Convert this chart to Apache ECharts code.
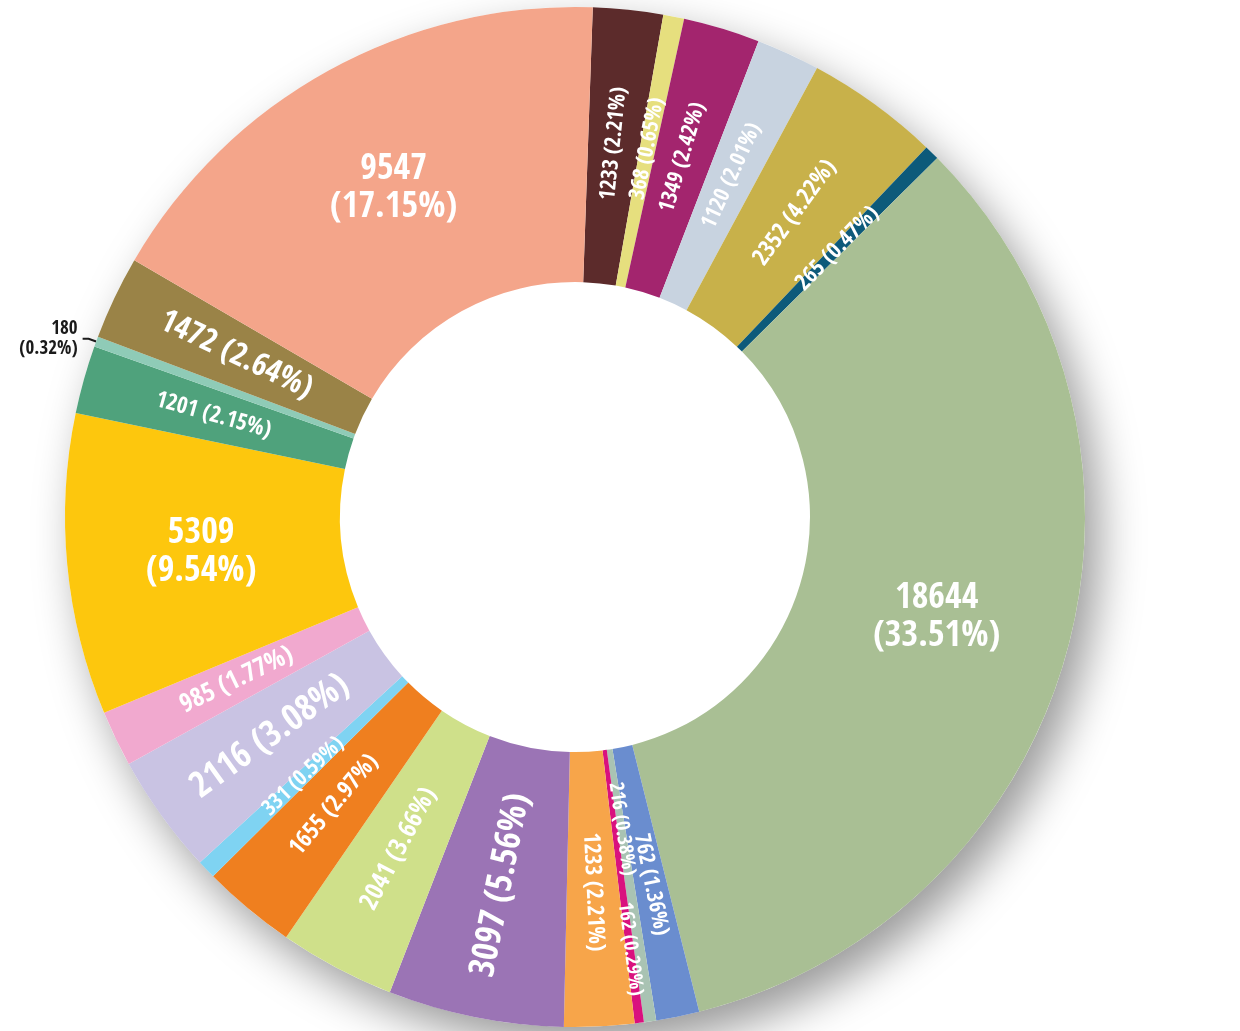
<!DOCTYPE html>
<html>
<head>
<meta charset="utf-8">
<script src="https://cdn.jsdelivr.net/npm/echarts@6/dist/echarts.min.js"></script>
<style>
  html, body { margin: 0; padding: 0; background: #fff; }
  #main { width: 1240px; height: 1031px; }
</style>
</head>
<body>
<div id="main"></div>
<script>
  // slices clockwise from 12 o'clock
  var counts = [1233, 368, 1349, 1120, 2352, 265, 18644, 762, 216, 162, 1233,
    3097, 2041, 1655, 331, 2116, 985, 5309, 1201, 180, 1472, 9547];
  // percentages as printed on the chart
  var percents = ['2.21', '0.65', '2.42', '2.01', '4.22', '0.47', '33.51', '1.36', '0.38', '0.29', '2.21',
    '5.56', '3.66', '2.97', '0.59', '3.08', '1.77', '9.54', '2.15', '0.32', '2.64', '17.15'];

  var colors = ['#5c2b2b', '#e6df7e', '#a3256e', '#c8d3e0', '#c8b14a', '#0d5a7a', '#a9bf94',
    '#6a8dcf', '#a9c3b3', '#d9117e', '#f7a54a', '#9b74b5', '#cfe08a', '#ef7f1f', '#7fd3f2',
    '#c9c3e3', '#f1a9cf', '#fdc70d', '#4fa27c', '#8fcbb7', '#9a8347', '#f4a58a'];
  var labelSizes = [22, 22, 22, 22, 24, 23, 36, 22, 20, 20, 23,
    36, 26, 24, 22, 36, 26, 36, 23, 19, 32, 36];
  var outsideIdx = 19;
  // two thin neighbours: push one label inward, the other outward so they don't overlap
  var labelPads = { 8: [0, 120, 0, 0], 9: [0, 0, 0, 120] };

  var font = "'Open Sans Condensed', 'Roboto Condensed', 'DejaVu Sans Condensed', sans-serif";

  var data = counts.map(function (v, i) {
    var item = { value: v, name: 'slice' + i, itemStyle: { color: colors[i] } };
    if (v >= 5000) {
      item.label = {
        rotate: 0, fontSize: labelSizes[i], lineHeight: 38,
        formatter: v + '\n(' + percents[i] + '%)'
      };
    } else if (i === outsideIdx) {
      item.label = {
        position: 'outside', rotate: 0, color: '#1a1a1a', fontSize: labelSizes[i], lineHeight: 20,
        align: 'center', formatter: v + '\n(' + percents[i] + '%)'
      };
      item.labelLine = { show: true, length: 8, length2: 6, lineStyle: { color: '#1a1a1a', width: 2 } };
    } else {
      item.label = { fontSize: labelSizes[i] };
      if (labelPads[i]) item.label.padding = labelPads[i];
    }
    return item;
  });

  var chart = echarts.init(document.getElementById('main'));
  chart.setOption({
    animation: false,
    series: [
      {
        // plain disc behind the ring, only for the drop shadow
        type: 'pie',
        silent: true,
        center: [575, 517],
        radius: [0, 510],
        label: { show: false },
        z: 1,
        data: [{
          value: 1,
          itemStyle: {
            color: '#fff', shadowBlur: 45, shadowColor: 'rgba(0,0,0,0.4)',
            shadowOffsetX: 14, shadowOffsetY: 20
          }
        }]
      },
      {
        type: 'pie',
        center: [575, 517],
        radius: [235, 510],
        startAngle: 88,
        clockwise: true,
        avoidLabelOverlap: false,
        minShowLabelAngle: 0,
        z: 2,
        label: {
          show: true,
          position: 'inside',
          rotate: 'radial',
          color: '#fff',
          fontFamily: font,
          fontWeight: 'bold',
          formatter: function (p) {
            return counts[p.dataIndex] + ' (' + percents[p.dataIndex] + '%)';
          }
        },
        labelLayout: { hideOverlap: false },
        labelLine: { show: false },
        itemStyle: { borderWidth: 0 },
        data: data
      }
    ]
  });
</script>
</body>
</html>
